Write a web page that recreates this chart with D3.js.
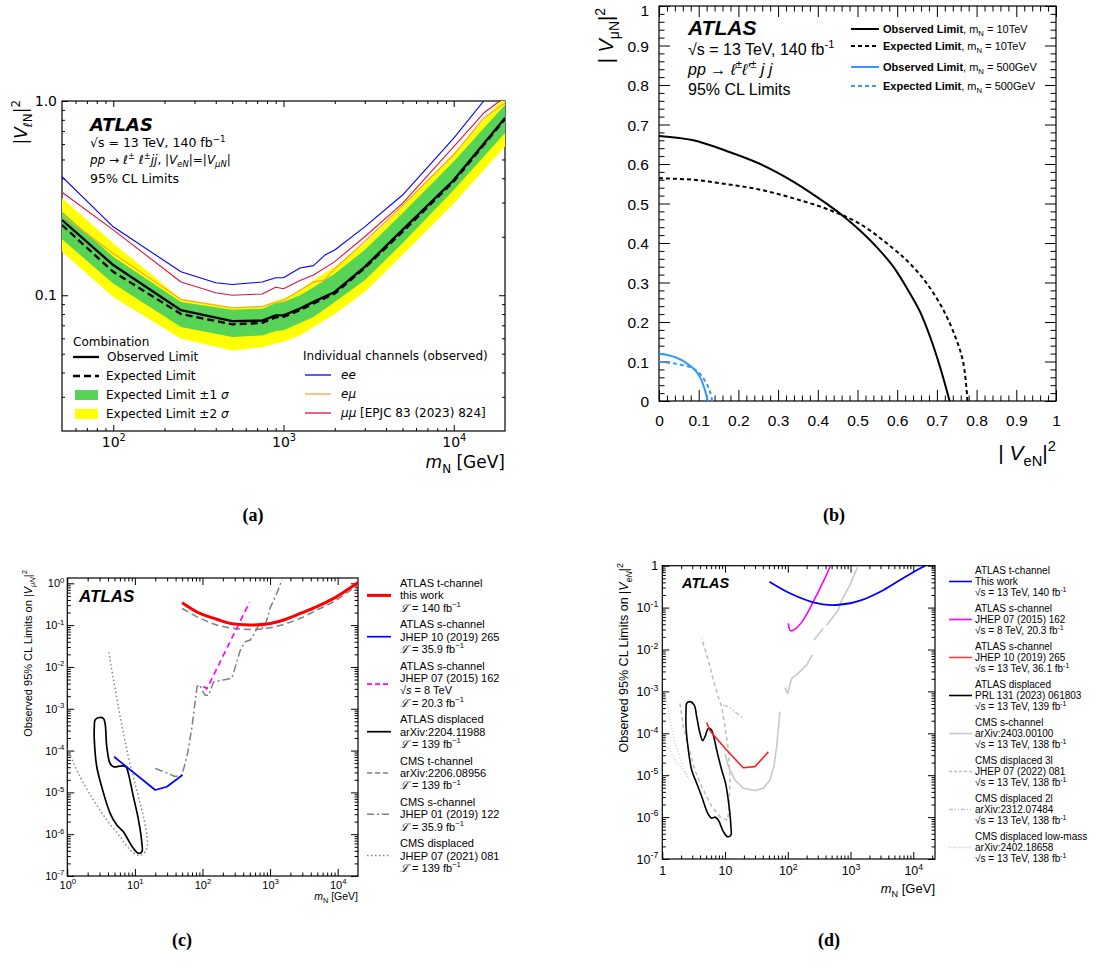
<!DOCTYPE html>
<html>
<head>
<meta charset="utf-8">
<script src="https://cdn.jsdelivr.net/npm/d3@7"></script>
<style>
  body { margin: 0; background: #fff; }
</style>
</head>
<body>
<svg id="fig" width="1096" height="970" font-family="Liberation Sans, Arial, sans-serif"></svg>
<script>
// ---------------- panel (a) data : |V_lN|^2 vs m_N
var massA = [50, 100, 250, 500, 750, 900, 1000, 1250, 1500, 2000, 3000, 5000, 10000, 20000];
var obsA  = [0.244, 0.143, 0.0837, 0.0736, 0.074, 0.0788, 0.0788, 0.0855, 0.0924, 0.104, 0.140, 0.217, 0.392, 0.817];
var expA  = [0.23, 0.132, 0.080, 0.0708, 0.072, 0.0769, 0.0774, 0.0837, 0.0907, 0.102, 0.138, 0.212, 0.385, 0.807];
var up1A  = [0.269, 0.158, 0.0924, 0.0843, 0.0853, 0.091, 0.0924, 0.100, 0.110, 0.129, 0.171, 0.264, 0.488, 0.957];
var dn1A  = [0.194, 0.115, 0.0686, 0.061, 0.0621, 0.0655, 0.066, 0.072, 0.0773, 0.0924, 0.1195, 0.185, 0.348, 0.684];
var up2A  = [0.316, 0.185, 0.096, 0.087, 0.088, 0.094, 0.096, 0.106, 0.1195, 0.140, 0.185, 0.286, 0.539, 1.057];
var dn2A  = [0.1675, 0.098, 0.0597, 0.052, 0.054, 0.0564, 0.0574, 0.062, 0.0686, 0.080, 0.104, 0.161, 0.297, 0.583];
var eeM   = [50, 100, 250, 400, 500, 750, 900, 1000, 1250, 1500, 1750, 2000, 3000, 5000, 10000, 15000];
var eeV   = [0.408, 0.225, 0.132, 0.116, 0.1135, 0.117, 0.123, 0.123, 0.138, 0.142, 0.161, 0.171, 0.225, 0.328, 0.644, 1.0];
var emuM  = [50, 100, 250, 500, 750, 900, 1000, 1250, 1500, 1750, 2000, 3000, 5000, 10000, 15000, 20000];
var emuV  = [0.259, 0.164, 0.095, 0.086, 0.0875, 0.092, 0.094, 0.106, 0.117, 0.12, 0.137, 0.189, 0.29, 0.53, 0.817, 0.976];
var mumuM = [50, 100, 250, 400, 500, 750, 900, 1000, 1250, 1500, 2000, 3000, 5000, 10000, 15000, 18600];
var mumuV = [0.339, 0.217, 0.117, 0.103, 0.1, 0.1015, 0.11, 0.108, 0.119, 0.127, 0.149, 0.2, 0.297, 0.583, 0.867, 1.0];

// ---------------- panel (b) data : |V_muN|^2 vs |V_eN|^2
var obs10X = [0, 0.0866, 0.17, 0.255, 0.339, 0.423, 0.473, 0.507, 0.549, 0.591, 0.633, 0.658, 0.683, 0.708, 0.732];
var obs10Y = [0.671, 0.66, 0.633, 0.6, 0.555, 0.499, 0.461, 0.431, 0.389, 0.339, 0.271, 0.225, 0.162, 0.086, 0];
var exp10X = [0, 0.087, 0.17, 0.255, 0.339, 0.423, 0.507, 0.591, 0.633, 0.675, 0.717, 0.750, 0.767, 0.777];
var exp10Y = [0.564, 0.56, 0.549, 0.535, 0.513, 0.486, 0.448, 0.385, 0.347, 0.297, 0.229, 0.153, 0.094, 0];
var obs500X = [0, 0.0445, 0.0866, 0.103, 0.116, 0.1227];
var obs500Y = [0.1196, 0.1095, 0.082, 0.061, 0.027, 0];
var exp500X = [0, 0.0445, 0.0866, 0.103, 0.12, 0.1286, 0.134];
var exp500Y = [0.0986, 0.094, 0.082, 0.069, 0.044, 0.023, 0];

// ---------------- panel (c) data : |V_muN|^2 comparison
var cRedM = [50, 92, 163, 257, 508, 897, 1585, 2800, 4940, 8720, 13700, 20000];
var cRedV = [0.345, 0.19, 0.138, 0.11, 0.101, 0.106, 0.133, 0.19, 0.277, 0.437, 0.69, 1.05];
var cBlueM = [4.92, 20, 29.7, 50.6];
var cBlueV = [7.1e-5, 1.14e-5, 1.36e-5, 2.6e-5];
var cMagM = [103, 116, 497];
var cMagV = [3.4e-3, 3.0e-3, 0.35];
var cDispM = [2.57, 2.88, 3.41, 3.62, 3.84, 4.29, 4.8, 6.4, 7.4, 8.0, 9.5, 11.3, 12.7, 12.7, 11.3, 9.5, 8.0, 6.76, 5.4, 4.29, 3.23, 2.73, 2.51, 2.51];
var cDispV = [5.4e-4, 6.1e-4, 5.9e-4, 4.5e-4, 1.23e-4, 4.9e-5, 4.1e-5, 4.3e-5, 4.1e-5, 2.85e-5, 7.9e-6, 2.2e-6, 6e-7, 3.8e-7, 3.5e-7, 4.6e-7, 7.2e-7, 1.15e-6, 1.65e-6, 3.2e-6, 1.36e-5, 4.1e-5, 1.8e-4, 3.7e-4];
var cCmsTM = [50, 92, 163, 288, 508, 897, 1585, 2800, 4940, 8720, 20000];
var cCmsTV = [0.25, 0.146, 0.101, 0.084, 0.079, 0.084, 0.104, 0.146, 0.23, 0.364, 0.91];
var cCmsSM = [20, 30, 39, 49.6, 59, 70, 83, 92, 98, 110, 123, 146, 205, 273, 362, 430, 510, 571, 677, 760, 850, 1000, 1260, 1500];
var cCmsSV = [3.75e-5, 2.9e-5, 2.4e-5, 2.6e-5, 7.1e-5, 3.7e-4, 3.4e-3, 3.7e-3, 2.8e-3, 2.1e-3, 2.1e-3, 4.4e-3, 4.9e-3, 5.4e-3, 0.025, 0.040, 0.044, 0.058, 0.1, 0.085, 0.1, 0.255, 0.58, 1.2];
var cCmsDM = [1.0, 1.54, 2.43, 3.84, 6.04, 8.5, 10.7, 12.6, 14.7, 15.3, 13.4, 10.7, 8.0, 5.7, 4.06];
var cCmsDV = [1.1e-4, 2.4e-5, 6.6e-6, 2.2e-6, 8.7e-7, 4.2e-7, 3.2e-7, 3.2e-7, 4.2e-7, 7.2e-7, 2.6e-6, 1.1e-5, 7.1e-5, 1.1e-3, 0.025];

// ---------------- panel (d) data : |V_eN|^2 comparison
var dBlueM = [51, 108, 255, 500, 980, 1410, 2040, 3370, 6170, 11500, 15600];
var dBlueV = [0.415, 0.22, 0.134, 0.115, 0.127, 0.146, 0.182, 0.263, 0.455, 0.79, 1.0];
var dMagM = [102, 111, 138, 177, 255, 368, 479];
var dMagV = [0.042, 0.028, 0.033, 0.051, 0.138, 0.415, 1.0];
var dRedM = [5.1, 5.75, 10, 19.5, 30, 49];
var dRedV = [1.8e-4, 1.15e-4, 4.4e-5, 1.5e-5, 1.6e-5, 3.6e-5];
var dDispM = [2.45, 2.76, 3.23, 3.53, 3.99, 4.4, 4.79, 5.41, 5.97, 6.5, 7.36, 8.85, 10.2, 11.6, 12.4, 12.4, 11.0, 9.4, 7.8, 6.92, 6.12, 5.3, 4.25, 3.53, 2.94, 2.6, 2.39, 2.39];
var dDispV = [5.2e-4, 5.7e-4, 4.7e-4, 2.5e-4, 1.0e-4, 6.7e-5, 8.3e-5, 1.3e-4, 1.25e-4, 9.1e-5, 4e-5, 1.33e-5, 6.4e-6, 1.8e-6, 5.9e-7, 3.7e-7, 3.4e-7, 4.5e-7, 8.5e-7, 1.0e-6, 9.4e-7, 1.23e-6, 3.1e-6, 6.4e-6, 1.33e-5, 4e-5, 1.44e-4, 3.6e-4];
var dCmsS1M = [10, 11.3, 14.4, 19.5, 30, 40.7, 52, 60, 66.5, 75];
var dCmsS1V = [3.3e-5, 1.6e-5, 7.7e-6, 4.9e-6, 4.3e-6, 4.9e-6, 7.7e-6, 1.6e-5, 4.8e-5, 3.3e-4];
var dCmsS2M = [90, 99.6, 115, 138, 200, 245];
var dCmsS2V = [1.2e-3, 9e-4, 2.05e-3, 2.5e-3, 4.3e-3, 7.4e-3];
var dCmsS3M = [261, 368];
var dCmsS3V = [0.0169, 0.032];
var dCmsS4M = [417, 638, 724, 980, 1320];
var dCmsS4V = [0.038, 0.088, 0.152, 0.346, 1.0];
var d3lM = [1.91, 2.16, 2.6, 3.31, 4.25, 6.12, 8.85, 11, 11.6, 12, 11.3, 10, 8.85, 7.8, 6.5, 5.4, 4.25];
var d3lV = [5.2e-4, 1.44e-4, 4.8e-5, 1.33e-5, 5.3e-6, 1.8e-6, 9.3e-7, 8.5e-7, 1.8e-6, 7.7e-6, 4e-5, 1.44e-4, 4.3e-4, 7.5e-4, 1.9e-3, 5.6e-3, 0.0185];
var d2lM = [9.4, 11.3, 19.5];
var d2lV = [4.7e-4, 4.3e-4, 2.3e-4];
var dLowM = [1.1, 1.3, 1.6, 2.16, 2.54, 1.6, 1.1];
var dLowV = [1.1e-3, 2.5e-4, 5.7e-5, 1.6e-5, 9.3e-6, 2.3e-5, 7e-5];

// ---------------- helpers
var svg = d3.select("#fig");
function zip(a, b) { return a.map(function(v, i) { return [v, b[i]]; }); }

// tiny markup: ^{..} sup, _{..} sub, _i{..} italic sub, $..$ italic, *..* bold
function rich(sel, str, fs) {
  var re = /(\^\{[^}]*\}|_i\{[^}]*\}|_\{[^}]*\}|\$[^$]*\$|\*[^*]*\*)/;
  var parts = str.split(re).filter(function(s) { return s; });
  var off = 0;
  parts.forEach(function(p) {
    var t = sel.append("tspan"), target = 0, txt = p;
    if (p.indexOf("^{") === 0) { target = -0.42 * fs; txt = p.slice(2, -1); t.attr("font-size", fs * 0.7); }
    else if (p.indexOf("_i{") === 0) { target = 0.28 * fs; txt = p.slice(3, -1); t.attr("font-size", fs * 0.7).attr("font-style", "italic"); }
    else if (p.indexOf("_{") === 0) { target = 0.28 * fs; txt = p.slice(2, -1); t.attr("font-size", fs * 0.7); }
    else if (p[0] === "$") { txt = p.slice(1, -1); t.attr("font-style", "italic"); }
    else if (p[0] === "*") { txt = p.slice(1, -1); t.attr("font-weight", "bold"); }
    if (target !== off) { t.attr("dy", target - off); off = target; }
    t.text(txt);
  });
}
function label(g, x, y, str, fs, opt) {
  opt = opt || {};
  var t = g.append("text").attr("x", x).attr("y", y).attr("font-size", fs).attr("fill", "#000");
  if (opt.anchor) t.attr("text-anchor", opt.anchor);
  if (opt.family) t.attr("font-family", opt.family);
  if (opt.weight) t.attr("font-weight", opt.weight);
  if (opt.style) t.attr("font-style", opt.style);
  if (opt.rotate) t.attr("transform", "rotate(-90," + x + "," + y + ")");
  rich(t, str, fs);
  return t;
}
function logMajor(lo, hi) {
  var out = [];
  for (var e = Math.ceil(Math.log10(lo) - 1e-9); Math.pow(10, e) <= hi * (1 + 1e-9); e++) out.push(Math.pow(10, e));
  return out;
}
function logMinor(lo, hi) {
  var out = [];
  for (var e = Math.floor(Math.log10(lo)); e <= Math.ceil(Math.log10(hi)); e++)
    for (var k = 2; k <= 9; k++) { var v = k * Math.pow(10, e); if (v > lo * 1.001 && v < hi * 0.999) out.push(v); }
  return out;
}
// inside ticks on all four sides + frame
function frame(g, x, y, xMaj, xMin, yMaj, yMin, L, l) {
  var xr = x.range(), yr = y.range();
  function put(axis, tx, ty, vals, len) {
    var a = g.append("g").attr("transform", "translate(" + tx + "," + ty + ")")
      .call(axis.tickValues(vals).tickSize(-len).tickFormat(""));
    a.select(".domain").remove();
    a.selectAll("line").attr("stroke", "#000").attr("stroke-width", 1);
  }
  put(d3.axisBottom(x), 0, yr[0], xMaj, L); put(d3.axisBottom(x), 0, yr[0], xMin, l);
  put(d3.axisTop(x), 0, yr[1], xMaj, L);    put(d3.axisTop(x), 0, yr[1], xMin, l);
  put(d3.axisLeft(y), xr[0], 0, yMaj, L);   put(d3.axisLeft(y), xr[0], 0, yMin, l);
  put(d3.axisRight(y), xr[1], 0, yMaj, L);  put(d3.axisRight(y), xr[1], 0, yMin, l);
  g.append("rect").attr("x", xr[0]).attr("y", yr[1]).attr("width", xr[1] - xr[0]).attr("height", yr[0] - yr[1])
    .attr("fill", "none").attr("stroke", "#000").attr("stroke-width", 1.2);
}
function tickLabels(g, axis, tx, ty, vals, fmt, fs, pad, family) {
  var a = g.append("g").attr("transform", "translate(" + tx + "," + ty + ")")
    .call(axis.tickValues(vals).tickSize(0).tickPadding(pad).tickFormat(""));
  a.select(".domain").remove();
  a.attr("font-size", fs).attr("font-family", family || "Liberation Sans, Arial, sans-serif");
  a.selectAll("text").attr("fill", "#000").each(function(d) { var t = d3.select(this); t.text(""); rich(t, fmt(d), fs); });
  return a;
}
function pow10(d) { return "10^{" + Math.round(Math.log10(d)) + "}"; }
function clip(id, x, y) {
  var xr = x.range(), yr = y.range();
  svg.append("clipPath").attr("id", id).append("rect")
    .attr("x", xr[0]).attr("y", yr[1]).attr("width", xr[1] - xr[0]).attr("height", yr[0] - yr[1]);
  return svg.append("g").attr("clip-path", "url(#" + id + ")");
}
function curve(g, x, y, pts, color, width, dash, cv) {
  var ln = d3.line().x(function(d) { return x(d[0]); }).y(function(d) { return y(d[1]); });
  if (cv) ln.curve(cv);
  g.append("path").attr("d", ln(pts)).attr("fill", "none").attr("stroke", color)
    .attr("stroke-width", width).attr("stroke-dasharray", dash || null).attr("stroke-linejoin", "round");
}

// ======================= panel (a)
var famA = "DejaVu Sans, sans-serif";
var xA = d3.scaleLog().domain([50, 20000]).range([62, 505]);
var yA = d3.scaleLog().domain([0.02, 1]).range([431, 101]);
var gA = svg.append("g").attr("font-family", famA);
var pA = clip("clipA", xA, yA);
var band = function(lo, hi) {
  return d3.area().x(function(d, i) { return xA(massA[i]); })
    .y0(function(d, i) { return yA(lo[i]); }).y1(function(d, i) { return yA(hi[i]); })(massA);
};
pA.append("path").attr("d", band(dn2A, up2A)).attr("fill", "#ffff00");
pA.append("path").attr("d", band(dn1A, up1A)).attr("fill", "#57d357");
curve(pA, xA, yA, zip(eeM, eeV), "#0000ff", 1.1);
curve(pA, xA, yA, zip(emuM, emuV), "#ffa533", 1.3);
curve(pA, xA, yA, zip(mumuM, mumuV), "#dc143c", 1.1);
curve(pA, xA, yA, zip(massA, expA), "#000", 2.3, "7,4");
curve(pA, xA, yA, zip(massA, obsA), "#000", 2.3);
frame(gA, xA, yA, [100, 1000, 10000], logMinor(50, 20000), [0.1, 1], logMinor(0.02, 1), 6, 3);
tickLabels(gA, d3.axisLeft(yA), 62, 0, [0.1, 1], function(d) { return d === 1 ? "1.0" : "0.1"; }, 14, 5, famA);
tickLabels(gA, d3.axisBottom(xA), 0, 431, [100, 1000, 10000], pow10, 14, 6, famA);
label(gA, 505, 468, "$m$_{N} [GeV]", 17, { anchor: "end", family: famA });
label(gA, 27, 100, "|$V$_{ℓN}|^{2}", 17, { anchor: "end", family: famA, rotate: true });
label(gA, 90, 131, "ATLAS", 18, { family: famA, weight: "bold", style: "italic" });
label(gA, 90, 147, "√s = 13 TeV, 140 fb^{−1}", 12.5, { family: famA });
label(gA, 90, 164, "$pp$ → $ℓ$^{±} $ℓ$^{±}$jj$, |$V$_i{eN}|=|$V$_i{μN}|", 12, { family: famA });
label(gA, 90, 183, "95% CL Limits", 12.5, { family: famA });
// legend (a)
label(gA, 73, 346, "Combination", 12, { family: famA });
gA.append("line").attr("x1", 73).attr("x2", 99).attr("y1", 357).attr("y2", 357).attr("stroke", "#000").attr("stroke-width", 2.3);
label(gA, 107, 361, "Observed Limit", 12, { family: famA });
gA.append("line").attr("x1", 73).attr("x2", 99).attr("y1", 376).attr("y2", 376).attr("stroke", "#000").attr("stroke-width", 2.3).attr("stroke-dasharray", "7,4");
label(gA, 106, 380, "Expected Limit", 12, { family: famA });
gA.append("rect").attr("x", 75).attr("y", 390).attr("width", 23).attr("height", 10).attr("fill", "#57d357");
label(gA, 106, 399, "Expected Limit ±1 $σ$", 12, { family: famA });
gA.append("rect").attr("x", 75).attr("y", 409).attr("width", 23).attr("height", 10).attr("fill", "#ffff00");
label(gA, 106, 418, "Expected Limit ±2 $σ$", 12, { family: famA });
label(gA, 303, 360, "Individual channels (observed)", 12, { family: famA });
[["$ee$", "#0000ff", 375], ["$eμ$", "#ffa533", 394], ["$μμ$ [EPJC 83 (2023) 824]", "#dc143c", 413]].forEach(function(e) {
  gA.append("line").attr("x1", 305).attr("x2", 331).attr("y1", e[2]).attr("y2", e[2]).attr("stroke", e[1]).attr("stroke-width", 1.3);
  label(gA, 341, e[2] + 4, e[0], 12, { family: famA });
});

// ======================= panel (b)
var xB = d3.scaleLinear().domain([0, 1]).range([659, 1056]);
var yB = d3.scaleLinear().domain([0, 1]).range([401, 6]);
var gB = svg.append("g");
var pB = clip("clipB", xB, yB);
var cr = d3.curveCatmullRom.alpha(0.5);
curve(pB, xB, yB, zip(exp10X, exp10Y), "#000", 2, "4,3", cr);
curve(pB, xB, yB, zip(obs10X, obs10Y), "#000", 2, null, cr);
curve(pB, xB, yB, zip(exp500X, exp500Y), "#3399ff", 2, "4,3", cr);
curve(pB, xB, yB, zip(obs500X, obs500Y), "#3399ff", 2, null, cr);
var majB = d3.range(0, 1.0001, 0.1), minB = d3.range(0.02, 1, 0.02).filter(function(v) { return Math.abs(v * 10 - Math.round(v * 10)) > 1e-6; });
frame(gB, xB, yB, majB, minB, majB, minB, 11, 5.5);
var fmtB = function(d) { return d < 1e-6 ? "0" : d > 0.9999 ? "1" : d3.format(".1f")(d); };
var yLabB = tickLabels(gB, d3.axisLeft(yB), 659, 0, majB, fmtB, 15.5, 10);
yLabB.selectAll("text").attr("dy", function(d) { return d > 0.9999 ? "0.62em" : "0.37em"; });
tickLabels(gB, d3.axisBottom(xB), 0, 401, majB, fmtB, 15.5, 14);
label(gB, 1056, 460, "| $V$_{eN}|^{2}", 21, { anchor: "end" });
label(gB, 613, 8, "| $V$_{μN}|^{2}", 20, { anchor: "end", rotate: true });
label(gB, 688, 35, "ATLAS", 21, { weight: "bold", style: "italic" });
label(gB, 688, 55, "√s = 13 TeV, 140 fb^{-1}", 16);
label(gB, 688, 75, "$pp$ → $ℓ$^{±}$ℓ'$^{±} $j j$", 16);
label(gB, 688, 95, "95% CL Limits", 16);
[["*Observed Limit*, m_{N} = 10TeV", "#000", null, 29], ["*Expected Limit*, m_{N} = 10TeV", "#000", "4,3", 46],
 ["*Observed Limit*, m_{N} = 500GeV", "#3399ff", null, 67], ["*Expected Limit*, m_{N} = 500GeV", "#3399ff", "4,3", 86]].forEach(function(e) {
  gB.append("line").attr("x1", 851).attr("x2", 879).attr("y1", e[3]).attr("y2", e[3]).attr("stroke", e[1]).attr("stroke-width", 2).attr("stroke-dasharray", e[2]);
  label(gB, 883, e[3] + 4, e[0], 11);
});

// ======================= panel (c)
var xC = d3.scaleLog().domain([1, 20000]).range([67.3, 358]);
var yC = d3.scaleLog().domain([1e-7, 1.34]).range([876, 578]);
var gC = svg.append("g");
var pC = clip("clipC", xC, yC);
curve(pC, xC, yC, zip(cCmsDM, cCmsDV), "#888", 1.5, "1.5,2.5", d3.curveCatmullRom);
curve(pC, xC, yC, zip(cCmsSM, cCmsSV), "#808080", 1.5, "8,3,2,3");
curve(pC, xC, yC, zip(cCmsTM, cCmsTV), "#808080", 1.5, "7,4", d3.curveCatmullRom);
curve(pC, xC, yC, zip(cDispM, cDispV), "#000", 1.7, null, d3.curveCatmullRomClosed.alpha(0.5));
curve(pC, xC, yC, zip(cBlueM, cBlueV), "#0000ff", 1.7);
curve(pC, xC, yC, zip(cMagM, cMagV), "#ff00ff", 1.7, "6,4");
curve(pC, xC, yC, zip(cRedM, cRedV), "#ff0000", 3, null, d3.curveCatmullRom);
frame(gC, xC, yC, logMajor(1, 20000), logMinor(1, 20000), logMajor(1e-7, 1.34), logMinor(1e-7, 1.34), 7, 3.5);
tickLabels(gC, d3.axisLeft(yC), 67.3, 0, logMajor(1e-7, 1.34), pow10, 11, 3);
tickLabels(gC, d3.axisBottom(xC), 0, 876, logMajor(1, 20000), pow10, 11, 5);
label(gC, 358, 900, "$m$_{N} [GeV]", 10.5, { anchor: "end" });
label(gC, 32, 570, "Observed 95% CL Limits on |$V$_i{μN}|^{2}", 11, { anchor: "end", rotate: true });
label(gC, 79, 602, "ATLAS", 17, { weight: "bold", style: "italic" });
var legC = [
  [["ATLAS t-channel", "this work", "$ℒ$ = 140 fb^{−1}"], "#ff0000", 3, null],
  [["ATLAS s-channel", "JHEP 10 (2019) 265", "$ℒ$ = 35.9 fb^{−1}"], "#0000ff", 1.7, null],
  [["ATLAS s-channel", "JHEP 07 (2015) 162", "√$s$ = 8 TeV", "$ℒ$ = 20.3 fb^{−1}"], "#ff00ff", 1.7, "5,3"],
  [["ATLAS displaced", "arXiv:2204.11988", "$ℒ$ = 139 fb^{−1}"], "#000", 1.7, null],
  [["CMS t-channel", "arXiv:2206.08956", "$ℒ$ = 139 fb^{−1}"], "#808080", 1.5, "5,3"],
  [["CMS s-channel", "JHEP 01 (2019) 122", "$ℒ$ = 35.9 fb^{−1}"], "#808080", 1.5, "7,3,2,3"],
  [["CMS displaced", "JHEP 07 (2021) 081", "$ℒ$ = 139 fb^{−1}"], "#888", 1.5, "1.5,2.5"]
];
var yc = 583;
legC.forEach(function(e) {
  var lines = e[0], mid = yc + (lines.length === 4 ? 1.5 : 1) * 12.4;
  gC.append("line").attr("x1", 367).attr("x2", 391).attr("y1", mid).attr("y2", mid).attr("stroke", e[1]).attr("stroke-width", e[2]).attr("stroke-dasharray", e[3]);
  lines.forEach(function(s, i) { label(gC, 400, yc + i * 12.4 + 4, s, 11); });
  yc += (lines.length - 1) * 12.4 + 16.5;
});

// ======================= panel (d)
var xD = d3.scaleLog().domain([1, 22200]).range([662.3, 935]);
var yD = d3.scaleLog().domain([1e-7, 1]).range([859, 565.7]);
var gD = svg.append("g");
var pD = clip("clipD", xD, yD);
curve(pD, xD, yD, zip(dLowM, dLowV), "#c8c8c8", 1.2, "1,2");
curve(pD, xD, yD, zip(d2lM, d2lV), "#c0c0c0", 1.3, "5,2,1.5,2,1.5,2");
curve(pD, xD, yD, zip(d3lM, d3lV), "#bdbdbd", 1.5, "4,3");
[[dCmsS1M, dCmsS1V], [dCmsS2M, dCmsS2V], [dCmsS3M, dCmsS3V], [dCmsS4M, dCmsS4V]].forEach(function(s) {
  curve(pD, xD, yD, zip(s[0], s[1]), "#c8c8c8", 1.6);
});
curve(pD, xD, yD, zip(dDispM, dDispV), "#000", 1.6, null, d3.curveCatmullRomClosed.alpha(0.5));
curve(pD, xD, yD, zip(dRedM, dRedV), "#ff2020", 1.6);
curve(pD, xD, yD, zip(dMagM, dMagV), "#ff00ff", 1.6, null, d3.curveCatmullRom);
curve(pD, xD, yD, zip(dBlueM, dBlueV), "#0000ff", 1.8, null, d3.curveCatmullRom);
frame(gD, xD, yD, logMajor(1, 22200), logMinor(1, 22200), logMajor(1e-7, 1), logMinor(1e-7, 1), 7, 3.5);
var fmtD = function(d) { return d === 1 ? "1" : d === 10 ? "10" : pow10(d); };
tickLabels(gD, d3.axisLeft(yD), 662.3, 0, logMajor(1e-7, 1), fmtD, 12.5, 4);
tickLabels(gD, d3.axisBottom(xD), 0, 859, logMajor(1, 22200), fmtD, 12.5, 7);
label(gD, 935, 893, "$m$_{N} [GeV]", 13, { anchor: "end" });
label(gD, 628, 563, "Observed 95% CL Limits on |$V$_i{eN}|^{2}", 12.5, { anchor: "end", rotate: true });
label(gD, 682, 588, "ATLAS", 14.5, { weight: "bold", style: "italic" });
var legD = [
  [["ATLAS t-channel", "This work", "√s = 13 TeV, 140 fb^{-1}"], "#0000ff", null],
  [["ATLAS s-channel", "JHEP 07 (2015) 162", "√s = 8 TeV, 20.3 fb^{-1}"], "#ff00ff", null],
  [["ATLAS s-channel", "JHEP 10 (2019) 265", "√s = 13 TeV, 36.1 fb^{-1}"], "#ff4040", null],
  [["ATLAS displaced", "PRL 131 (2023) 061803", "√s = 13 TeV, 139 fb^{-1}"], "#000", null],
  [["CMS s-channel", "arXiv:2403.00100", "√s = 13 TeV, 138 fb^{-1}"], "#c8c8c8", null],
  [["CMS displaced 3l", "JHEP 07 (2022) 081", "√s = 13 TeV, 138 fb^{-1}"], "#bdbdbd", "3,2"],
  [["CMS displaced 2l", "arXiv:2312.07484", "√s = 13 TeV, 138 fb^{-1}"], "#c0c0c0", "4,2,1,2,1,2"],
  [["CMS displaced low-mass", "arXiv:2402.18658", "√s = 13 TeV, 138 fb^{-1}"], "#c8c8c8", "1,1.5"]
];
legD.forEach(function(e, k) {
  var y0 = 570.7 + k * 38;
  gD.append("line").attr("x1", 949).attr("x2", 972).attr("y1", y0 + 10.8).attr("y2", y0 + 10.8).attr("stroke", e[1]).attr("stroke-width", 1.6).attr("stroke-dasharray", e[2]);
  e[0].forEach(function(s, i) { label(gD, 975, y0 + i * 10.8 + 3.6, s, 10); });
});

// ======================= captions
[["(a)", 253, 521], ["(b)", 834, 521], ["(c)", 182, 946], ["(d)", 829, 946]].forEach(function(c) {
  label(svg, c[1], c[2], c[0], 18, { anchor: "middle", family: "Liberation Serif, serif", weight: "bold" });
});
</script>
</body>
</html>
